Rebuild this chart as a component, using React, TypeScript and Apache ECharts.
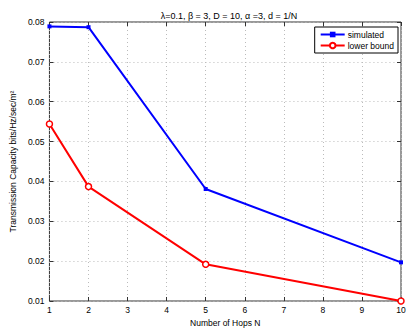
import React, { useEffect, useRef } from "react";
import * as echarts from "echarts";

const hops = [1, 2, 5, 10];
const simulated = [0.0789, 0.0787, 0.0381, 0.0197];
const lowerBound = [0.0544, 0.0387, 0.0192, 0.0100];
const titleText = "λ=0.1, β = 3, D = 10, α =3, d = 1/N";
const xName = "Number of Hops N";
const yName = "Transmission Capacity bits/Hz/sec/m²";

export default function App() {
  const ref = useRef<HTMLDivElement>(null);
  useEffect(() => {
    if (!ref.current) return;
    const chart = echarts.init(ref.current, null, { renderer: "svg" });
    const font = "Liberation Sans, Arial, sans-serif";
    chart.setOption({
      animation: false,
      backgroundColor: "#fff",
      textStyle: { fontFamily: font },
      title: {
        text: titleText,
        left: 224,
        top: 6,
        textAlign: "center",
        textStyle: { fontSize: 9, fontWeight: "normal", color: "#000", fontFamily: font },
      },
      grid: {
        left: 47,
        right: 14,
        top: 22,
        bottom: 34,
        show: true,
        borderColor: "#333",
        borderWidth: 1,
        backgroundColor: "#fff",
      },
      legend: {
        right: 17,
        top: 27,
        orient: "vertical",
        itemWidth: 24,
        itemHeight: 7,
        itemGap: 2,
        padding: [3, 4, 3, 5],
        borderColor: "#000",
        borderWidth: 1,
        backgroundColor: "#fff",
        textStyle: { fontSize: 8.5, color: "#000", fontFamily: font, padding: [0, 0, 0, -2] },
        data: ["simulated", "lower bound"],
      },
      xAxis: [
        {
          type: "value",
          min: 1,
          max: 10,
          interval: 1,
          name: xName,
          nameLocation: "middle",
          nameGap: 17,
          nameTextStyle: { fontSize: 8.5, color: "#000", fontFamily: font },
          axisLine: { show: false },
          axisTick: { show: true, inside: true, length: 4, lineStyle: { color: "#333" } },
          axisLabel: { fontSize: 8.5, color: "#000", margin: 4, fontFamily: font },
          splitLine: { show: true, lineStyle: { type: [1, 3], color: "#bbb", width: 1 } },
        },
        {
          type: "value",
          position: "top",
          min: 1,
          max: 10,
          interval: 1,
          axisLine: { show: false },
          axisTick: { show: true, inside: true, length: 4, lineStyle: { color: "#333" } },
          axisLabel: { show: false },
          splitLine: { show: false },
        },
      ],
      yAxis: [
        {
          type: "value",
          min: 0.01,
          max: 0.08,
          interval: 0.01,
          name: yName,
          nameLocation: "middle",
          nameGap: 30,
          nameTextStyle: { fontSize: 8.5, color: "#000", fontFamily: font },
          axisLine: { show: false },
          axisTick: { show: true, inside: true, length: 4, lineStyle: { color: "#333" } },
          axisLabel: {
            fontSize: 8.5,
            color: "#000",
            margin: 5,
            fontFamily: font,
            formatter: (v: number) => v.toFixed(2),
          },
          splitLine: { show: true, lineStyle: { type: [1, 3], color: "#bbb", width: 1 } },
        },
        {
          type: "value",
          position: "right",
          min: 0.01,
          max: 0.08,
          interval: 0.01,
          axisLine: { show: false },
          axisTick: { show: true, inside: true, length: 4, lineStyle: { color: "#333" } },
          axisLabel: { show: false },
          splitLine: { show: false },
        },
      ],
      series: [
        {
          name: "simulated",
          type: "line",
          data: hops.map((h, i) => [h, simulated[i]]),
          symbol: "rect",
          symbolSize: 4,
          lineStyle: { color: "#0000ff", width: 2 },
          itemStyle: { color: "#0000ff" },
          z: 3,
        },
        {
          name: "lower bound",
          type: "line",
          data: hops.map((h, i) => [h, lowerBound[i]]),
          symbol: "circle",
          symbolSize: 6,
          showAllSymbol: true,
          lineStyle: { color: "#ff0000", width: 2 },
          itemStyle: { color: "#fff", borderColor: "#ff0000", borderWidth: 1.5 },
          z: 4,
        },
      ],
    });
    return () => chart.dispose();
  }, []);
  return (
    <div
      ref={ref}
      style={{ position: "fixed", left: 0, top: 0, width: 415, height: 335 }}
    />
  );
}
